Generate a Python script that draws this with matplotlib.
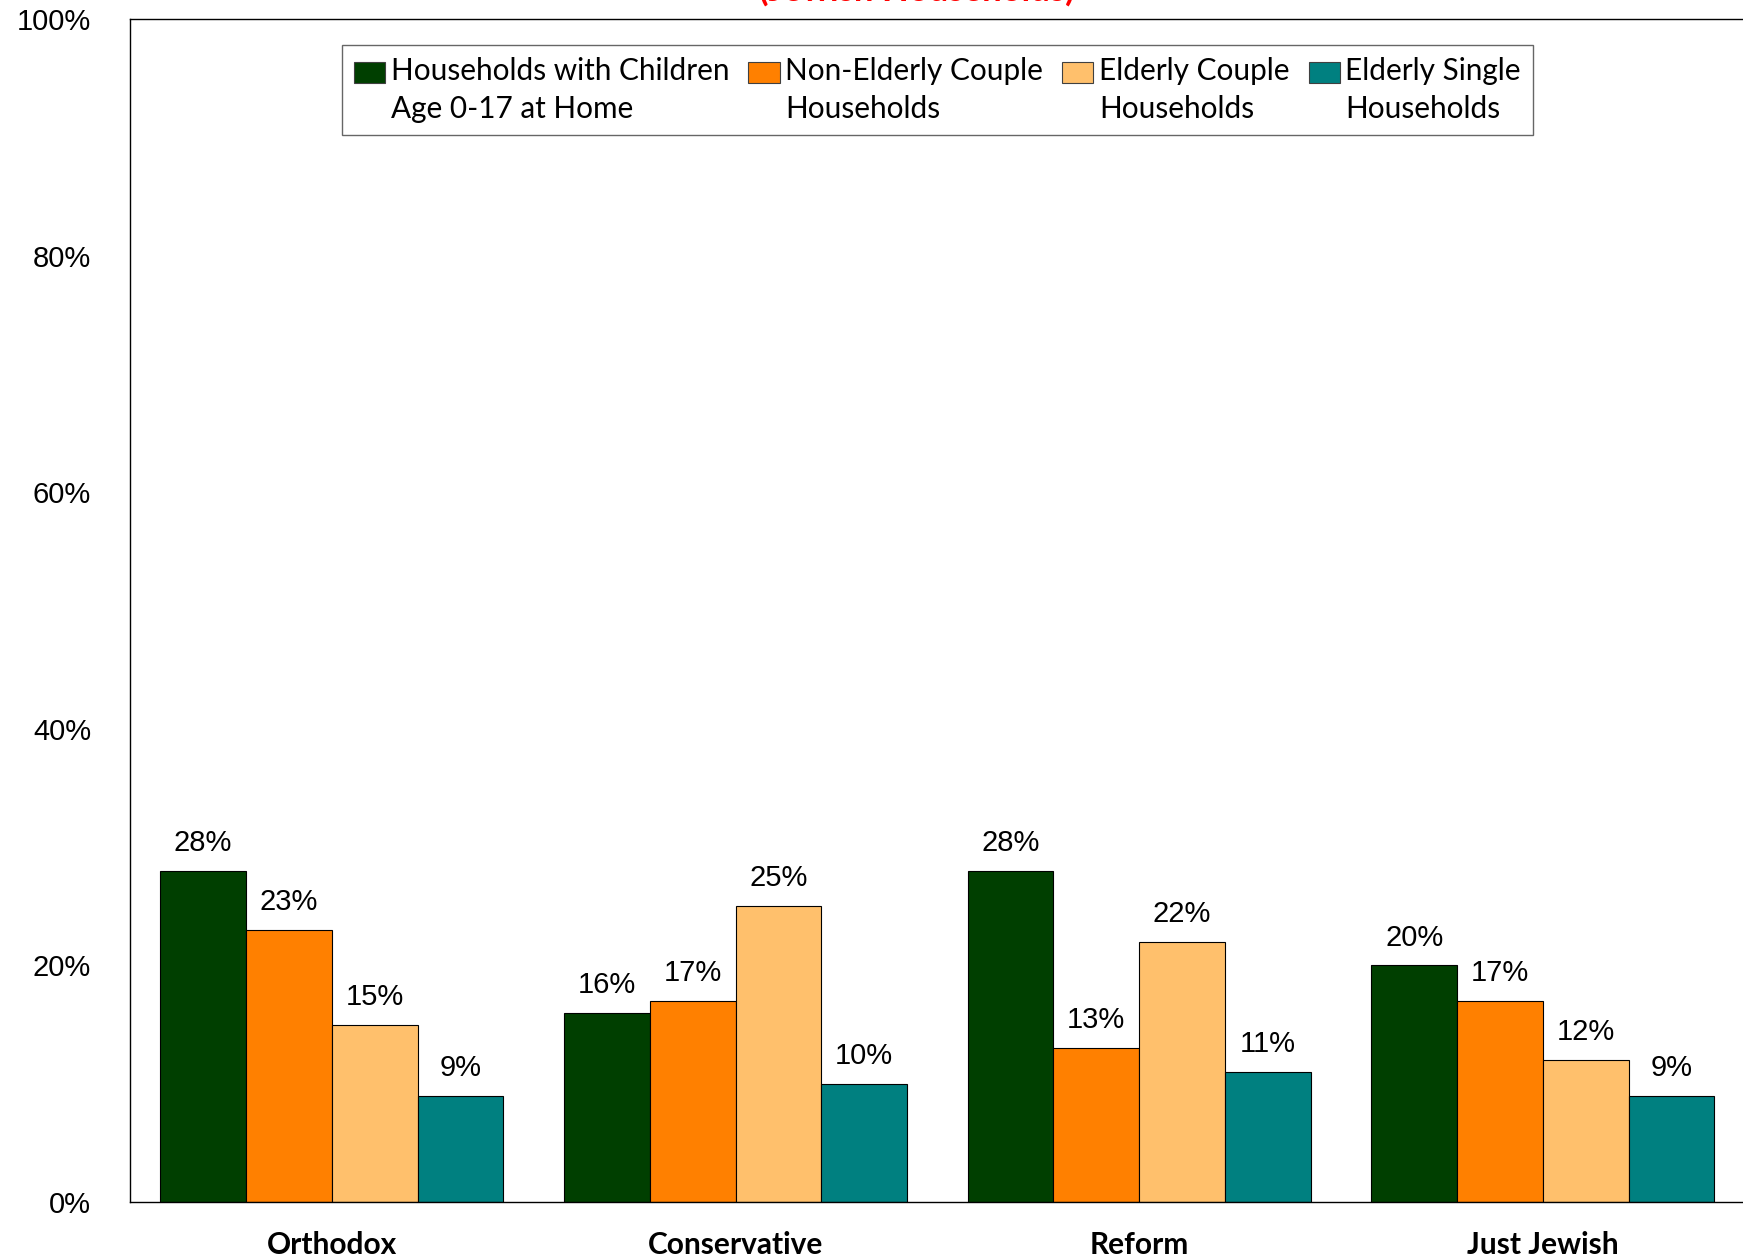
import matplotlib.pyplot as plt
from matplotlib.legend_handler import HandlerPatch
from matplotlib.patches import Rectangle
from matplotlib.container import BarContainer
import numpy as np

# data
categories = ["Orthodox", "Conservative", "Reform", "Just Jewish"]
series_names = ["Households with Children\nAge 0-17 at Home",
                "Non-Elderly Couple\nHouseholds",
                "Elderly Couple\nHouseholds",
                "Elderly Single\nHouseholds"]
children = [28, 16, 28, 20]
non_elderly = [23, 17, 13, 17]
elderly_couple = [15, 25, 22, 12]
elderly_single = [9, 10, 11, 9]
colors = ["#003F00", "#FF8000", "#FFC06C", "#008080"]

series = [children, non_elderly, elderly_couple, elderly_single]


# legend box sits next to the first line of the label, not in the middle
class TopPatch(HandlerPatch):
    def create_artists(self, legend, orig_handle, xdescent, ydescent,
                       width, height, fontsize, trans):
        face = orig_handle.patches[0].get_facecolor()
        r = Rectangle((-xdescent, -ydescent + 0.62 * fontsize), width, height,
                      facecolor=face, edgecolor="#404040", linewidth=0.8,
                      transform=trans)
        return [r]


fig = plt.figure(figsize=(17.43, 12.59), dpi=100)
ax = fig.add_axes([130 / 1743, 1 - 1202 / 1259, 1613 / 1743 + 0.001, (1202 - 19) / 1259])

x = np.arange(len(categories))
w = 0.85 / 4
for i, vals in enumerate(series):
    pos = x - 0.425 + w * (i + 0.5)
    bars = ax.bar(pos, vals, w, color=colors[i], edgecolor="black", linewidth=0.8,
                  label=series_names[i])
    for b, v in zip(bars, vals):
        ax.annotate(f"{v}%", (b.get_x() + b.get_width() / 2, v), xytext=(0, 10),
                    textcoords="offset points", ha="center", va="bottom",
                    fontsize=21, family="Liberation Sans")

ax.set_xlim(-0.5, 3.5)
ax.set_ylim(0, 100)
ax.set_yticks(np.arange(0, 101, 20))
ax.set_yticklabels([f"{t}%" for t in range(0, 101, 20)], fontsize=21, family="Liberation Sans")
ax.set_xticks(x)
ax.set_xticklabels(categories, fontsize=21.5, family="Lato", fontweight="bold")
ax.tick_params(axis="both", length=0)
ax.tick_params(axis="y", pad=28)
ax.tick_params(axis="x", pad=21)
for s in ax.spines.values():
    s.set_color("black")
    s.set_linewidth(1)

leg = ax.legend(loc="upper center", bbox_to_anchor=(0.5, 0.978), ncol=4,
                prop={"family": "Lato", "size": 21.4}, frameon=True, fancybox=False,
                edgecolor="#404040", handlelength=1.05, handleheight=0.7,
                handletextpad=0.18, columnspacing=0.65, borderpad=0.4,
                borderaxespad=0, labelspacing=0.2,
                handler_map={BarContainer: TopPatch()})
leg.get_frame().set_linewidth(1)
for t in leg.get_texts():
    t.set_linespacing(1.45)

fig.text(0.526, 1 - 1 / 1259, "(Jewish Households)", color="red", fontsize=25,
         family="Lato", fontweight="bold", ha="center", va="baseline")

fig.savefig("out.png", dpi=100)
